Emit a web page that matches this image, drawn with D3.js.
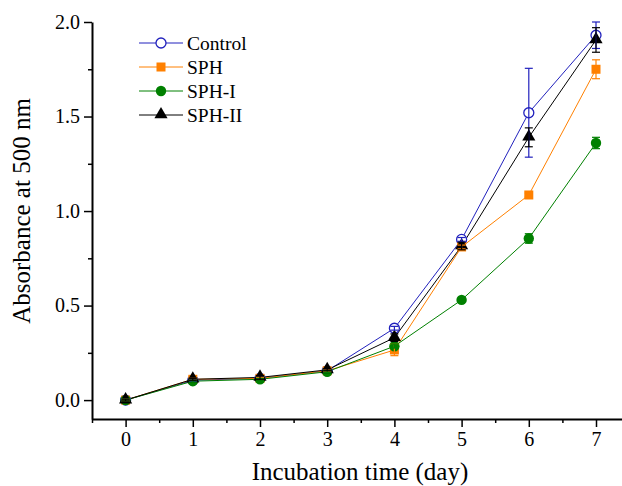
<!DOCTYPE html>
<html>
<head>
<meta charset="utf-8">
<script src="https://cdn.jsdelivr.net/npm/d3@7"></script>
<style>
  body { margin: 0; background: #fff; }
  svg text { font-family: "Liberation Serif", "Times New Roman", serif; fill: #000; }
</style>
</head>
<body>
<div id="chart"></div>
<script>
// data
var days = [0, 1, 2, 3, 4, 5, 6, 7];
var seriesNames = ["Control", "SPH", "SPH-I", "SPH-II"];
var controlValues = [0.0, 0.105, 0.115, 0.155, 0.38, 0.85, 1.52, 1.93];
var controlErr = [0.005, 0.005, 0.005, 0.005, 0.01, 0.01, 0.235, 0.07];
var sphValues = [0.0, 0.11, 0.115, 0.155, 0.265, 0.81, 1.085, 1.75];
var sphErr = [0.005, 0.005, 0.005, 0.005, 0.03, 0.01, 0.01, 0.05];
var sph1Values = [0.0, 0.10, 0.11, 0.15, 0.285, 0.53, 0.855, 1.36];
var sph1Err = [0.005, 0.005, 0.005, 0.005, 0.01, 0.01, 0.025, 0.03];
var sph2Values = [0.0, 0.11, 0.12, 0.16, 0.33, 0.815, 1.39, 1.905];
var sph2Err = [0.005, 0.005, 0.01, 0.005, 0.02, 0.02, 0.05, 0.065];
var xTicks = [0, 1, 2, 3, 4, 5, 6, 7];
var yTicks = [0.0, 0.5, 1.0, 1.5, 2.0];

var colors = ["#2121bd", "#ff8000", "#008000", "#000000"];
var symbols = ["opencircle", "square", "circle", "triangle"];
var allValues = [controlValues, sphValues, sph1Values, sph2Values];
var allErr = [controlErr, sphErr, sph1Err, sph2Err];

var width = 622, height = 486;
var plotLeft = 92, plotTop = 22, plotBottom = 419;

var x = d3.scaleLinear()
    .domain([-0.5, 7.5])
    .range([plotLeft, plotLeft + 8 * 67.2]);
var y = d3.scaleLinear()
    .domain([-0.1, 2.0])
    .range([plotBottom, plotTop]);

var svg = d3.select("#chart").append("svg")
    .attr("width", width)
    .attr("height", height);

// axes
svg.append("g")
    .attr("transform", "translate(0," + plotBottom + ")")
    .call(d3.axisBottom(x).tickValues(xTicks).tickFormat(d3.format("d")).tickSize(8).tickSizeOuter(0).tickPadding(5));
svg.append("g")
    .attr("transform", "translate(" + plotLeft + ",0)")
    .call(d3.axisLeft(y).tickValues(yTicks).tickFormat(d3.format(".1f")).tickSize(8).tickSizeOuter(0).tickPadding(4));

// minor ticks
svg.append("g")
    .attr("transform", "translate(0," + plotBottom + ")")
    .call(d3.axisBottom(x).tickValues([-0.5, 0.5, 1.5, 2.5, 3.5, 4.5, 5.5, 6.5, 7.5]).tickFormat("").tickSize(4).tickSizeOuter(0))
    .select(".domain").remove();
svg.append("g")
    .attr("transform", "translate(" + plotLeft + ",0)")
    .call(d3.axisLeft(y).tickValues([0.25, 0.75, 1.25, 1.75]).tickFormat("").tickSize(4).tickSizeOuter(0))
    .select(".domain").remove();

svg.selectAll(".domain").style("stroke", "#000").style("stroke-width", 2);
svg.selectAll(".tick line").style("stroke", "#000").style("stroke-width", 1.5);
svg.selectAll(".tick text").style("font-size", "20px").style("font-family", "Liberation Serif");

// axis titles
svg.append("text")
    .attr("x", 360)
    .attr("y", 480)
    .style("text-anchor", "middle")
    .style("font-size", "25px")
    .text("Incubation time (day)");
svg.append("text")
    .attr("transform", "translate(30,211) rotate(-90)")
    .style("text-anchor", "middle")
    .style("font-size", "25px")
    .text("Absorbance at 500 nm");

function drawMarker(g, kind, color, cx, cy) {
  if (kind == "opencircle") {
    g.append("circle").attr("cx", cx).attr("cy", cy).attr("r", 5)
      .style("fill", "#fff").style("stroke", color).style("stroke-width", 1.3);
  } else if (kind == "circle") {
    g.append("circle").attr("cx", cx).attr("cy", cy).attr("r", 5.2)
      .style("fill", color);
  } else if (kind == "square") {
    g.append("rect").attr("x", cx - 4.5).attr("y", cy - 4.5).attr("width", 9).attr("height", 9)
      .style("fill", color);
  } else {
    g.append("path").attr("d", d3.symbol().type(d3.symbolTriangle).size(75)())
      .attr("transform", "translate(" + cx + "," + (cy - 0.5) + ")")
      .style("fill", color);
  }
}

var line = d3.line()
    .x(function(d, i) { return x(days[i]); })
    .y(function(d) { return y(d); });

// lines first
allValues.forEach(function(vals, s) {
  svg.append("path")
    .datum(vals)
    .attr("d", line)
    .style("fill", "none")
    .style("stroke", colors[s])
    .style("stroke-width", 1);
});

// markers
allValues.forEach(function(vals, s) {
  var g = svg.append("g");
  vals.forEach(function(v, i) {
    drawMarker(g, symbols[s], colors[s], x(days[i]), y(v));
  });
});

// error bars
allValues.forEach(function(vals, s) {
  var g = svg.append("g").style("stroke", colors[s]).style("stroke-width", 1.2);
  vals.forEach(function(v, i) {
    var e = allErr[s][i];
    var cx = x(days[i]);
    g.append("line").attr("x1", cx).attr("x2", cx).attr("y1", y(v - e)).attr("y2", y(v + e));
    g.append("line").attr("x1", cx - 4).attr("x2", cx + 4).attr("y1", y(v - e)).attr("y2", y(v - e));
    g.append("line").attr("x1", cx - 4).attr("x2", cx + 4).attr("y1", y(v + e)).attr("y2", y(v + e));
  });
});

// legend
var legend = svg.append("g");
seriesNames.forEach(function(name, i) {
  var ly = 43 + i * 24;
  legend.append("line")
    .attr("x1", 139).attr("x2", 183).attr("y1", ly).attr("y2", ly)
    .style("stroke", colors[i]).style("stroke-width", 1);
  drawMarker(legend, symbols[i], colors[i], 161, ly);
  legend.append("text")
    .attr("x", 187).attr("y", ly + 7)
    .style("font-size", "19.5px")
    .text(name);
});
</script>
</body>
</html>
